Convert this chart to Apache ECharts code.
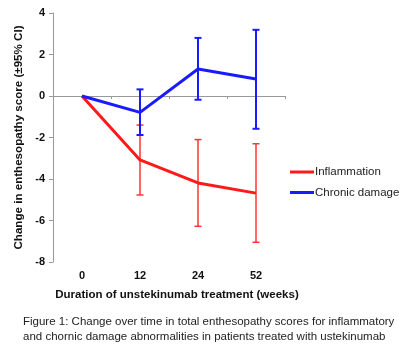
<!DOCTYPE html>
<html><head><meta charset="utf-8">
<script src="https://cdn.jsdelivr.net/npm/echarts@6/dist/echarts.min.js"></script>
<style>html,body{margin:0;padding:0;background:#fff}#c{width:415px;height:363px}</style>
</head><body><div id="c"></div>
<script>
var categories = ['0', '12', '24', '52'];
var inflammation = [0, -3.08, -4.19, -4.68];
var inflLow = [null, -4.77, -6.28, -7.05];
var inflHigh = [null, -1.40, -2.10, -2.30];
var chronic = [0, -0.79, 1.30, 0.82];
var chronLow = [null, -1.88, -0.18, -1.58];
var chronHigh = [null, 0.32, 2.80, 3.19];
var yTicks = [-8, -6, -4, -2, 0, 2, 4];

function errData(low, high) {
  var d = [];
  for (var i = 0; i < low.length; i++) if (low[i] != null) d.push([i, low[i], high[i]]);
  return d;
}
function errRender(color, width) {
  return function (params, api) {
    var x = api.value(0);
    var lo = api.coord([x, api.value(1)]);
    var hi = api.coord([x, api.value(2)]);
    var hw = 3.5;
    var st = { stroke: color, lineWidth: width };
    return { type: 'group', children: [
      { type: 'line', shape: { x1: lo[0], y1: lo[1], x2: hi[0], y2: hi[1] }, style: st },
      { type: 'line', shape: { x1: lo[0] - hw, y1: lo[1], x2: lo[0] + hw, y2: lo[1] }, style: st },
      { type: 'line', shape: { x1: hi[0] - hw, y1: hi[1], x2: hi[0] + hw, y2: hi[1] }, style: st }
    ]};
  };
}

var chart = echarts.init(document.getElementById('c'));
chart.setOption({
  animation: false,
  grid: { left: 53, right: 130, top: 13, bottom: 101 },
  xAxis: [
    { type: 'category', data: categories, position: 'bottom',
      axisLine: { show: false, onZero: false }, axisTick: { show: false },
      axisLabel: { margin: 8, fontFamily: 'Liberation Sans, Arial', fontWeight: 'bold', fontSize: 11, color: '#111' },
      splitLine: { show: false } },
    { type: 'category', data: categories, position: 'top',
      axisLine: { show: true, onZero: true, lineStyle: { color: '#999', width: 1 } },
      axisTick: { show: true, inside: true, length: 3, lineStyle: { color: '#999' } },
      axisLabel: { show: false }, splitLine: { show: false } }
  ],
  yAxis: {
    type: 'value', min: yTicks[0], max: yTicks[yTicks.length - 1], interval: 2,
    name: 'Change in enthesopathy score (±95% CI)', nameLocation: 'middle', nameGap: 25,
    nameTextStyle: { fontFamily: 'Liberation Sans, Arial', fontWeight: 'bold', fontSize: 11.6, color: '#111' },
    axisLine: { show: true, lineStyle: { color: '#999' } },
    axisTick: { show: true, length: 4, lineStyle: { color: '#999' } },
    axisLabel: { margin: 8, fontFamily: 'Liberation Sans, Arial', fontWeight: 'bold', fontSize: 11, color: '#111' },
    splitLine: { show: false }
  },
  legend: {
    orient: 'vertical', left: 290, top: 166, padding: 0, itemGap: 8.5, itemWidth: 24, itemHeight: 3,
    icon: 'rect', data: ['Inflammation', 'Chronic damage'],
    textStyle: { fontFamily: 'Liberation Sans, Arial', fontSize: 11.5, color: '#222', padding: [0, 0, 0, -4] }
  },
  series: [
    { name: 'Inflammation', type: 'line', data: inflammation, xAxisIndex: 0, showSymbol: false, symbol: 'none',
      lineStyle: { color: '#ff1a1a', width: 3 }, itemStyle: { color: '#ff1a1a' }, z: 3 },
    { name: 'Chronic damage', type: 'line', data: chronic, xAxisIndex: 0, showSymbol: false, symbol: 'none',
      lineStyle: { color: '#1a1aff', width: 3 }, itemStyle: { color: '#1a1aff' }, z: 3 },
    { type: 'custom', name: 'inflErr', xAxisIndex: 0, data: errData(inflLow, inflHigh),
      renderItem: errRender('#ff3333', 1.5), z: 2 },
    { type: 'custom', name: 'chronErr', xAxisIndex: 0, data: errData(chronLow, chronHigh),
      renderItem: errRender('#1a1aff', 2), z: 2 }
  ],
  graphic: [
    { type: 'text', x: 177, y: 289,
      style: { text: 'Duration of unstekinumab treatment (weeks)', font: 'bold 11.5px "Liberation Sans", Arial', fill: '#111', align: 'center' } },
    { type: 'text', x: 23, y: 315,
      style: { text: 'Figure 1: Change over time in total enthesopathy scores for inflammatory\nand chornic damage abnormalities in patients treated with ustekinumab',
        font: '11.5px "Liberation Sans", Arial', fill: '#222', lineHeight: 14.5 } }
  ]
});
</script></body></html>
